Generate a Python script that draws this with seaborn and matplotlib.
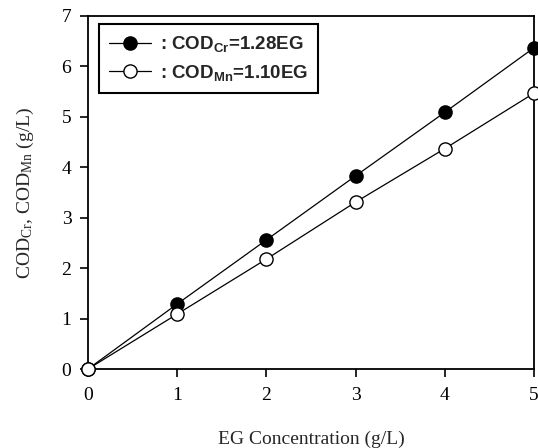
import matplotlib
matplotlib.use("Agg")
import matplotlib.pyplot as plt
import seaborn as sns
import pandas as pd

eg_conc = [0, 1, 2, 3, 4, 5]
cod_cr = [0, 1.29, 2.56, 3.83, 5.09, 6.37]
cod_mn = [0, 1.09, 2.18, 3.31, 4.37, 5.47]
label_cr = r": COD$_{Cr}$=1.28EG"
label_mn = r": COD$_{Mn}$=1.10EG"
x_ticks = [0, 1, 2, 3, 4, 5]
y_ticks = [0, 1, 2, 3, 4, 5, 6, 7]

sns.set_style("ticks")
plt.rcParams["font.family"] = ["Liberation Serif", "DejaVu Serif"]
plt.rcParams["mathtext.default"] = "regular"

df_cr = pd.DataFrame({"x": eg_conc, "y": cod_cr})
df_mn = pd.DataFrame({"x": eg_conc, "y": cod_mn})

fig = plt.figure(figsize=(5.38, 4.48), dpi=100)
ax = fig.add_axes([0.1636, 0.1763, 0.8290, 0.7880])

sns.lineplot(data=df_cr, x="x", y="y", ax=ax, color="black", lw=0.9,
             marker="o", markersize=9.5, markerfacecolor="black",
             markeredgecolor="black", markeredgewidth=1.0, clip_on=False,
             label=label_cr, zorder=3)
sns.lineplot(data=df_mn, x="x", y="y", ax=ax, color="black", lw=0.9,
             marker="o", markersize=9.5, markerfacecolor="white",
             markeredgecolor="black", markeredgewidth=1.0, clip_on=False,
             label=label_mn, zorder=3)

ax.set_xlim(0, 5)
ax.set_ylim(0, 7)
ax.set_xticks(x_ticks)
ax.set_yticks(y_ticks)
for s in ax.spines.values():
    s.set_visible(True)
    s.set_linewidth(1.3)
    s.set_color("black")
ax.tick_params(direction="out", length=6, width=1.2, labelsize=14, colors="black")
ax.tick_params(axis="x", pad=7)
ax.tick_params(axis="y", pad=6)
ax.set_xlabel("EG Concentration (g/L)", fontsize=14, labelpad=19)
ax.set_ylabel(r"COD$_{Cr}$, COD$_{Mn}$ (g/L)", fontsize=14, labelpad=18)

leg = ax.legend(loc="upper left", bbox_to_anchor=(0.025, 0.978), frameon=True,
                fancybox=False, edgecolor="black", framealpha=1,
                prop={"family": "Liberation Sans", "weight": "bold", "size": 13.5},
                handlelength=2.2, handletextpad=0.5, borderpad=0.55,
                labelspacing=0.45, borderaxespad=0)
leg.get_frame().set_linewidth(1.5)

fig.savefig("out.png", dpi=100)
